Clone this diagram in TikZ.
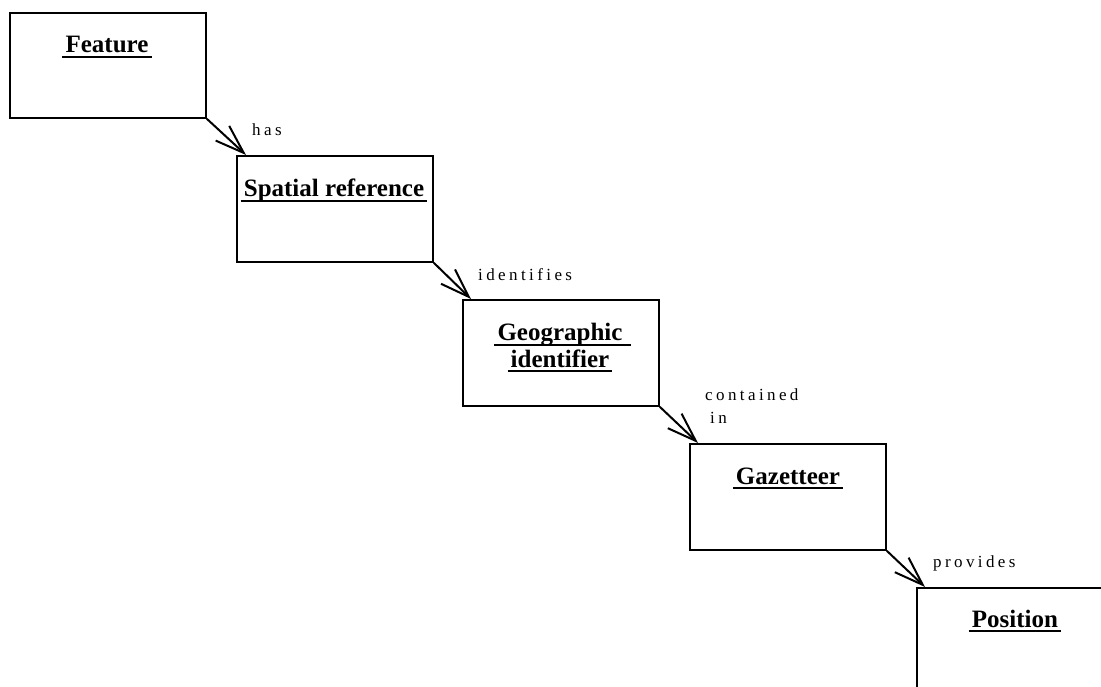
\documentclass[tikz,border=0pt]{standalone}
\usepackage{fontspec}
\setmainfont{Liberation Serif}
\newfontfamily\labelfont[LetterSpace=20]{Liberation Serif}
\usetikzlibrary{arrows.meta}
\begin{document}
\begin{tikzpicture}[x=1pt,y=-1pt,
  box/.style={draw,line width=1.8pt,minimum width=196pt,minimum height=106pt,inner sep=0pt,anchor=north west},
  title/.style={font=\fontsize{25}{26}\selectfont\bfseries,inner sep=0pt,anchor=base},
  rel/.style={font=\fontsize{17}{23}\selectfont\labelfont,inner sep=0pt,anchor=base west,align=left},
  link/.style={line width=2pt,-{Straight Barb[length=29pt,width=20pt,line width=2pt]}},
  uline/.style={line width=1.3pt}]
\clip (0,0) rectangle (1101,687);
\fill[white] (0,0) rectangle (1101,687);
% boxes
\node[box,minimum height=105pt] (feat) at (9,12) {};
\node[box] (spat) at (236,155) {};
\node[box] (geo) at (462,299) {};
\node[box] (gaz) at (689,443) {};
\node[box] (pos) at (916,587) {};
% titles
\node[title] (tfeat) at (107,53) {Feature};
\node[title] (tspat) at (334,197) {Spatial reference};
\node[title] (tgeo1) at (560,341) {Geographic};
\node[title] (tgeo2) at (560,367) {identifier};
\node[title] (tgaz) at (788,484) {Gazetteer};
\node[title] (tpos) at (1015,627) {Position};
\foreach \t/\r in {tfeat/3,tspat/3,tgeo1/8,tgeo2/3,tgaz/3,tpos/3}
  \draw[uline] ([xshift=-3pt,yshift=-4pt]\t.base west) -- ([xshift=\r pt,yshift=-4pt]\t.base east);
% connectors
\draw[link] (feat.south east) -- ([xshift=10pt]spat.north west);
\draw[link] (spat.south east) -- ([xshift=9pt]geo.north west);
\draw[link] (geo.south east) -- ([xshift=9pt]gaz.north west);
\draw[link] (gaz.south east) -- ([xshift=9pt]pos.north west);
% labels
\node[rel] (lhas) at (252,136) {has};
\node[rel] (lid) at (478,280) {identifies};
\node[rel] (lcont) at (705,400) {contained};
\node[rel] (lin) at (710,423) {in};
\node[rel] (lprov) at (933,567) {provides};
\end{tikzpicture}
\end{document}
